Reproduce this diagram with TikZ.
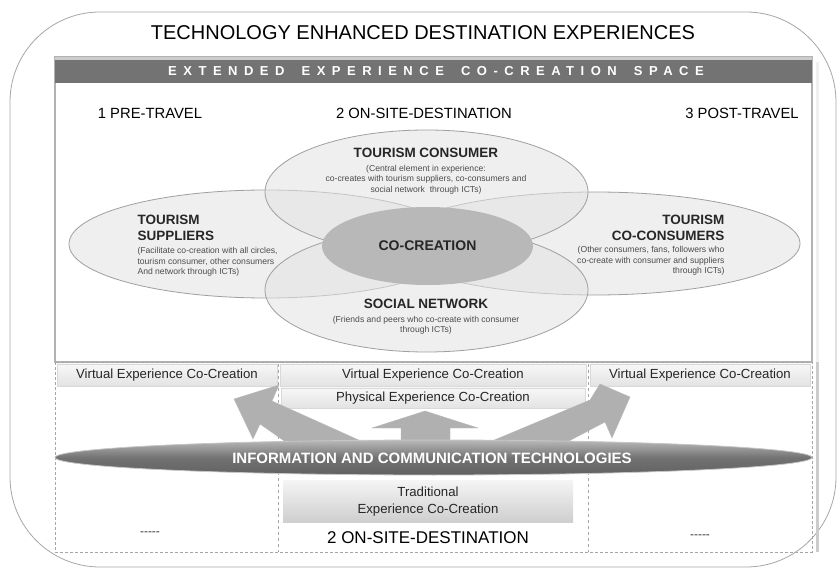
\documentclass[tikz,border=0pt]{standalone}
\usepackage{fontspec}
\setmainfont{Liberation Sans}
\newfontfamily\spacedfont[LetterSpace=50]{Liberation Sans}
\usetikzlibrary{positioning}
\usetikzlibrary{shapes.geometric}

\begin{document}
\begin{tikzpicture}[x=1pt,y=-1pt,
  blob/.style={ellipse,draw=gray!75,fill=gray!22,fill opacity=0.55,line width=0.8pt,inner sep=0pt},
  head/.style={font=\bfseries\fontsize{13.5}{16}\selectfont,text=black!85},
  small/.style={font=\fontsize{8.6}{10.6}\selectfont,text=black!70},
  band/.style={inner sep=0pt,top color=gray!6,bottom color=gray!22,draw=gray!30,line width=0.4pt},
  label/.style={font=\fontsize{13.2}{15}\selectfont,text=black!85},
  fat/.style={fill=gray!62,draw=gray!55,line width=0.4pt}]
 \useasboundingbox (0,0) rectangle (839,572);
 \draw[gray!70,line width=0.8pt,rounded corners=90pt] (10,12) rectangle (836,567);
 \node[font=\fontsize{20}{22}\selectfont] (title) at (423,33) {TECHNOLOGY ENHANCED DESTINATION EXPERIENCES};

 \fill[gray!12] (816,62) rectangle (819,552);
 \draw[gray!60,line width=2.5pt,fill=white] (55,57) rectangle (812,362);
 \fill[black!55] (55,57) rectangle (812,83);
 \fill[gray!40] (55,57) rectangle (812,60);
 \node[font=\spacedfont\bfseries\fontsize{13}{15}\selectfont,text=white] (space) at (436,71) {EXTENDED\ \hspace{7pt}EXPERIENCE\ \hspace{7pt}CO-CREATION\ \hspace{7pt}SPACE};

 \node[font=\fontsize{14.8}{17}\selectfont] (pre) at (150,113) {1 PRE-TRAVEL};
 \node[font=\fontsize{14.8}{17}\selectfont] (onsite) at (424,113) {2 ON-SITE-DESTINATION};
 \node[font=\fontsize{14.8}{17}\selectfont] (post) at (742,113) {3 POST-TRAVEL};

 \node[blob,minimum width=394pt,minimum height=108pt] (suppliers) at (266,244) {};
 \node[blob,minimum width=410pt,minimum height=103pt] (coconsumers) at (595,243.5) {};
 \node[blob,minimum width=323pt,minimum height=124pt] (consumer) at (426.5,192) {};
 \node[blob,minimum width=323pt,minimum height=124pt] (social) at (426.5,290) {};
 \node[ellipse,fill=gray!56,inner sep=0pt,minimum width=211pt,minimum height=78pt] (cocreation) at (427.5,246) {};

 \node[head] (consumertxt) at (426,153) {TOURISM CONSUMER};
 \node[small,align=center,below=0pt of consumertxt] (consumersub) {(Central element in experience:\\co-creates with tourism suppliers, co-consumers and\\social network\ \ through ICTs)};
 \node[head,align=left,anchor=west] (supplierstxt) at (134,227.5) {TOURISM\\SUPPLIERS};
 \node[small,align=left,anchor=north west] (supplierssub) at (134,244) {(Facilitate co-creation with all circles,\\tourism consumer, other consumers\\And network through ICTs)};
 \node[head,align=right,anchor=east] (coconsumerstxt) at (728,227.5) {TOURISM\\CO-CONSUMERS};
 \node[small,align=right,anchor=north east] (coconsumerssub) at (728,243) {(Other consumers, fans, followers who\\co-create with consumer and suppliers\\through ICTs)};
 \node[head,font=\bfseries\fontsize{14}{16}\selectfont] (cocreationtxt) at (427.5,246) {CO-CREATION};
 \node[head] (socialtxt) at (426,304) {SOCIAL NETWORK};
 \node[small,align=center,below=0pt of socialtxt] (socialsub) {(Friends and peers who co-create with consumer\\through ICTs)};

 \draw[gray!70,densely dashed,line width=0.7pt] (55,362) rectangle (812,552);
 \draw[gray!70,dashed,line width=0.6pt] (278,364) -- (278,552);
 \draw[gray!70,dashed,line width=0.6pt] (588,364) -- (588,552);
 \fill[gray!40] (816,362) rectangle (819,552);

 \node[band,label,minimum width=220pt,minimum height=22pt] (virtualpre) at (167,375) {Virtual Experience Co-Creation};
 \node[band,label,minimum width=306pt,minimum height=22pt] (virtualon) at (433,375) {Virtual Experience Co-Creation};
 \node[band,label,minimum width=220pt,minimum height=22pt] (virtualpost) at (700,375) {Virtual Experience Co-Creation};
 \node[band,label,minimum width=304pt,minimum height=20pt] (physical) at (433,398) {Physical Experience Co-Creation};

 \draw[fat] (300,452) -- (260,424) -- (253,439) -- (234,399) -- (279,385) -- (272,401) -- (372,446) -- cycle;
 \draw[fat] (401,450) -- (401,428) -- (372,428) -- (425,411) -- (478,428) -- (450,428) -- (450,450) -- cycle;
 \draw[fat] (480,446) -- (590,400) -- (600,384) -- (630,397) -- (612,438) -- (605,422) -- (548,452) -- cycle;

 \node[ellipse,inner sep=0pt,minimum width=757pt,minimum height=35pt,top color=gray!55,bottom color=black!62,middle color=black!55,draw=gray!45,line width=0.8pt] (ict) at (433.5,457.5) {};
 \node[font=\bfseries\fontsize{15}{17}\selectfont,text=white] (icttxt) at (432,458) {INFORMATION AND COMMUNICATION TECHNOLOGIES};

 \node[inner sep=0pt,top color=gray!8,bottom color=gray!38,minimum width=290pt,minimum height=42pt] (traditional) at (428,501) {};
 \node[label,align=center,font=\fontsize{13.2}{17}\selectfont] (traditionaltxt) at (428,502) {Traditional\\Experience Co-Creation};
 \node[font=\fontsize{17}{19}\selectfont] (onsitebottom) at (428,538) {2 ON-SITE-DESTINATION};
 \node[font=\fontsize{12}{13}\selectfont,text=black!80] (prenone) at (150,534) {-{}-{}-{}-{}-};
 \node[font=\fontsize{12}{13}\selectfont,text=black!80] (postnone) at (700,537) {-{}-{}-{}-{}-};
\end{tikzpicture}
\end{document}
